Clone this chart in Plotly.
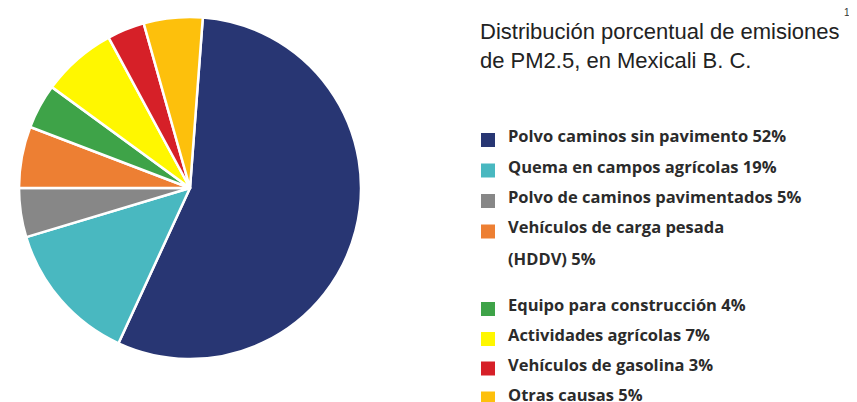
import plotly.graph_objects as go

# Data (slice sizes in %)
categories = [
    "Polvo caminos sin pavimento",
    "Quema en campos agrícolas",
    "Polvo de caminos pavimentados",
    "Vehículos de carga pesada (HDDV)",
    "Equipo para construcción",
    "Actividades agrícolas",
    "Vehículos de gasolina",
    "Otras causas",
]
slice_values = [55.7, 13.5, 4.65, 5.8, 4.24, 7.07, 3.53, 5.56]
legend_labels = [
    "Polvo caminos sin pavimento 52%",
    "Quema en campos agrícolas 19%",
    "Polvo de caminos pavimentados 5%",
    "Vehículos de carga pesada<br>(HDDV) 5%",
    "Equipo para construcción 4%",
    "Actividades agrícolas 7%",
    "Vehículos de gasolina 3%",
    "Otras causas 5%",
]
colors = ["#283673", "#49b8c0", "#878787", "#ed7f33",
          "#3ea348", "#fff700", "#d62028", "#fdc00c"]

# page has an 8px body margin; the figure is sized to end at the window edge
OFF = 8
W, H = 857 - OFF, 402 - OFF


def px(x):
    return (x - OFF) / W


def py(y):
    return 1 - (y - OFF) / H


cx, cy, r = 190, 188, 171

fig = go.Figure(go.Pie(
    labels=categories,
    values=slice_values,
    sort=False,
    direction="clockwise",
    rotation=4.3,
    marker=dict(colors=colors, line=dict(color="white", width=2.5)),
    textinfo="none",
    hoverinfo="label+percent",
    showlegend=False,
    domain=dict(x=[px(cx - r), px(cx + r)],
                y=[py(cy + r), py(cy - r)]),
))

# legend built from the label lists
sq_y = [140, 170.5, 201, 231.5, 309, 339, 368.5, 398.5]
row_gap = 31
shapes = []
annotations = []
for lab, col, y in zip(legend_labels, colors, sq_y):
    shapes.append(dict(type="rect", xref="paper", yref="paper",
                       x0=px(481), x1=px(495),
                       y0=py(y + 7), y1=py(y - 7),
                       fillcolor=col, line=dict(width=0)))
    for i, line in enumerate(lab.split("<br>")):
        annotations.append(dict(
            text="<b>" + line + "</b>",
            xref="paper", yref="paper", x=px(506), y=py(y - 4.5 + i * row_gap),
            xanchor="left", yanchor="middle", align="left", showarrow=False,
            font=dict(family="Open Sans", size=16.5, color="#2b2b2b"),
        ))

annotations.append(dict(
    text="Distribución porcentual de emisiones<br>de PM2.5, en Mexicali B. C.",
    xref="paper", yref="paper", x=px(478), y=py(46.5),
    xanchor="left", yanchor="middle", align="left", showarrow=False,
    font=dict(family="Liberation Sans", size=22, color="#222222"),
))
annotations.append(dict(
    text="1", xref="paper", yref="paper", x=px(847), y=py(13),
    xanchor="center", yanchor="middle", showarrow=False,
    font=dict(family="Liberation Sans", size=10, color="#333333"),
))

fig.update_layout(
    width=W, height=H,
    margin=dict(l=0, r=0, t=0, b=0),
    paper_bgcolor="white", plot_bgcolor="white",
    shapes=shapes, annotations=annotations,
)
fig.write_html("out.html")
